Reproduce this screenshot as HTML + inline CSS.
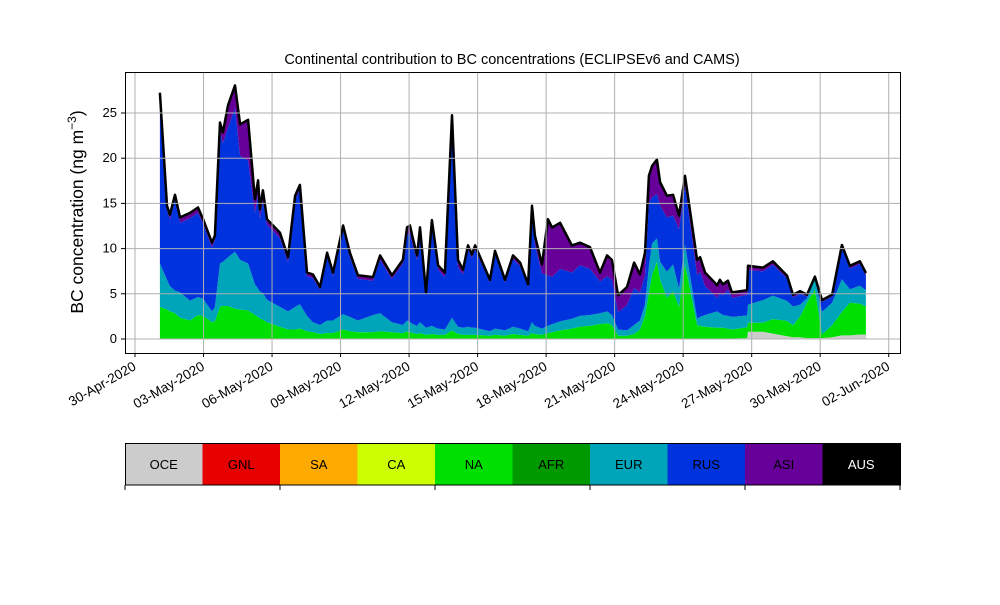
<!DOCTYPE html>
<html><head><meta charset="utf-8"><style>
body{margin:0;background:#fff;font-family:"Liberation Sans",sans-serif;}
svg text{font-family:"Liberation Sans",sans-serif;}
</style></head><body>
<svg id="chart" width="1000" height="600" viewBox="0 0 1000 600" xmlns="http://www.w3.org/2000/svg">
<rect width="1000" height="600" fill="#fff"/>
<text x="512" y="64" text-anchor="middle" font-size="14.5">Continental contribution to BC concentrations (ECLIPSEv6 and CAMS)</text>
<text transform="translate(83,212) rotate(-90)" text-anchor="middle" font-size="17.5">BC concentration (ng m<tspan dy="-7" font-size="12">−3</tspan><tspan dy="7">)</tspan></text>
<g id="areas"></g>
<g id="grid"></g>
<g id="ticks"></g>
<rect x="125.5" y="72.5" width="775" height="281" fill="none" stroke="#000" stroke-width="1"/>
<g id="cbar"></g>
</svg>
<script>
const days = [1.09,1.40,1.53,1.75,1.97,2.41,2.76,2.98,3.37,3.50,3.72,3.85,4.07,4.38,4.60,4.95,5.25,5.39,5.47,5.60,5.78,6.35,6.70,7.01,7.22,7.53,7.79,8.10,8.41,8.67,9.11,9.41,9.76,10.42,10.73,11.25,11.73,11.91,12.04,12.17,12.35,12.48,12.74,13.00,13.27,13.57,13.88,14.14,14.36,14.58,14.75,14.89,15.54,15.76,16.20,16.55,16.86,17.21,17.38,17.51,17.82,18.08,18.26,18.61,19.13,19.48,19.92,20.36,20.67,20.88,21.15,21.54,21.85,22.11,22.33,22.50,22.64,22.85,22.99,23.29,23.56,23.82,24.08,24.61,24.74,24.96,25.49,25.61,25.74,25.96,26.14,26.80,26.84,27.50,27.93,28.55,28.81,29.12,29.42,29.77,30.08,30.52,30.95,31.30,31.74,32.00];
const oce = [0.05,0.05,0.05,0.05,0.05,0.05,0.05,0.05,0.05,0.05,0.05,0.05,0.05,0.05,0.05,0.05,0.05,0.05,0.05,0.05,0.05,0.05,0.05,0.05,0.05,0.05,0.05,0.05,0.05,0.05,0.05,0.05,0.05,0.05,0.05,0.05,0.05,0.05,0.05,0.05,0.05,0.05,0.05,0.05,0.05,0.05,0.05,0.05,0.05,0.05,0.05,0.05,0.05,0.05,0.05,0.05,0.05,0.05,0.05,0.05,0.05,0.05,0.05,0.05,0.05,0.05,0.05,0.05,0.05,0.05,0.05,0.05,0.05,0.05,0.05,0.05,0.05,0.05,0.05,0.05,0.05,0.05,0.05,0.05,0.05,0.05,0.05,0.05,0.05,0.05,0.05,0.1,0.8,0.8,0.6,0.3,0.2,0.2,0.1,0.1,0.1,0.2,0.4,0.4,0.5,0.5];
const naVals = [3.5,3.2,3.0,2.8,2.3,2.0,2.6,2.5,1.8,1.9,3.5,3.6,3.6,3.3,3.2,3.1,2.6,2.4,2.2,2.1,1.8,1.3,1.0,1.0,1.1,0.8,0.7,0.5,0.6,0.6,1.0,0.8,0.7,0.7,0.8,0.7,0.6,0.8,0.7,0.6,0.5,0.6,0.4,0.5,0.4,0.4,0.9,0.5,0.4,0.4,0.4,0.4,0.3,0.4,0.3,0.5,0.4,0.3,0.6,0.5,0.4,0.6,0.7,0.9,1.1,1.3,1.4,1.6,1.7,1.5,0.3,0.3,0.5,1.0,2.5,5.0,7.0,8.5,6.5,4.5,5.2,3.5,8.2,1.5,1.4,1.3,1.2,1.2,1.2,1.1,1.0,1.2,1.0,1.0,1.6,1.7,1.3,2.3,3.9,5.4,0.4,1.3,2.6,3.6,3.4,3.1];
const eurVals = [4.8,3.3,2.8,2.5,2.8,2.2,2.0,1.9,1.2,1.6,4.8,4.9,5.4,6.3,5.5,5.2,3.4,3.1,3.0,2.9,2.5,2.2,2.0,2.5,2.7,1.7,1.1,1.0,1.4,1.4,1.7,1.6,1.3,1.9,2.0,1.1,0.9,1.2,1.1,1.0,0.9,1.2,0.8,0.9,0.7,0.6,1.4,0.8,0.8,0.9,0.8,0.8,0.5,0.7,0.6,0.8,0.7,0.5,1.2,0.9,0.7,0.8,0.9,1.0,1.1,1.2,1.2,1.2,1.3,1.1,0.7,0.6,1.0,1.0,1.3,3.0,3.5,2.6,2.0,2.9,3.0,2.0,2.2,0.7,1.0,1.3,1.8,1.6,1.4,1.4,1.4,1.3,2.0,2.5,2.6,2.2,2.1,1.3,0.5,1.1,2.5,2.5,3.6,1.5,2.0,1.8];
const rusVals = [18.6,7.7,7.4,10.1,7.7,9.1,9.3,8.3,7.1,7.4,14.6,13.1,14.3,15.9,11.5,11.4,7.9,10.5,8.1,10.2,8.3,7.6,5.5,11.8,12.7,4.4,4.9,3.9,7.1,4.9,9.2,6.6,4.6,3.8,5.9,4.8,6.8,9.5,9.9,8.6,7.3,10.0,3.7,11.3,6.5,5.8,22.0,6.6,5.9,8.6,7.7,8.7,5.4,8.3,5.3,7.5,6.9,4.9,12.4,9.0,6.1,5.6,5.2,5.8,5.1,5.6,5.1,3.5,3.9,3.9,1.9,2.8,4.1,3.1,3.2,7.0,5.1,4.9,6.2,6.0,5.4,6.6,6.5,4.8,5.0,3.2,1.5,2.2,2.2,2.9,2.1,2.3,3.8,3.2,3.4,2.5,1.0,1.2,0.2,0.1,1.1,0.7,3.5,2.3,2.4,1.6];
const asiVals = [0.3,0.5,0.5,0.5,0.6,0.6,0.6,0.5,0.5,0.5,1.0,1.2,2.5,2.5,3.5,4.5,1.5,1.5,1.0,1.2,0.6,0.6,0.5,0.5,0.5,0.4,0.4,0.3,0.4,0.4,0.6,0.5,0.4,0.4,0.5,0.4,0.4,0.8,0.8,0.8,0.5,0.5,0.2,0.4,0.5,0.5,0.4,0.8,0.5,0.4,0.4,0.4,0.3,0.3,0.3,0.4,0.4,0.3,0.5,1.0,1.0,6.2,5.5,5.1,3.0,2.5,2.4,1.0,2.3,2.2,1.9,2.0,2.8,2.0,2.5,3.0,3.5,3.8,2.6,2.4,2.3,1.5,1.1,1.7,1.6,1.5,1.4,1.5,1.2,1.0,0.6,0.5,0.5,0.4,0.4,0.3,0.3,0.3,0.2,0.2,0.2,0.2,0.3,0.3,0.3,0.3];
const layerNames = ["OCE","NA","EUR","RUS","ASI"];
const layerColors = ["#cccccc","#00e000","#00a5b9","#0033dd","#660099"];
const yTicks = [0,5,10,15,20,25];
const xTickDays = [0,3,6,9,12,15,18,21,24,27,30,33];
const xTickLabels = ["30-Apr-2020","03-May-2020","06-May-2020","09-May-2020","12-May-2020","15-May-2020","18-May-2020","21-May-2020","24-May-2020","27-May-2020","30-May-2020","02-Jun-2020"];
const cbarLabels = ["OCE","GNL","SA","CA","NA","AFR","EUR","RUS","ASI","AUS"];
const cbarColors = ["#cccccc","#e60000","#ffaa00","#ccff00","#00e000","#009900","#00a5b9","#0033dd","#660099","#000000"];

const NS="http://www.w3.org/2000/svg";
const X = d => 135 + d*22.84;
const Y = v => 339 - v*9.04;
function mk(tag, attrs, parent){const e=document.createElementNS(NS,tag);for(const k in attrs)e.setAttribute(k,attrs[k]);parent.appendChild(e);return e;}
const series=[oce,naVals,eurVals,rusVals,asiVals];
const areas=document.getElementById('areas');
let base=days.map(()=>0);
series.forEach((s,i)=>{
  const top=base.map((b,j)=>b+s[j]);
  let pts=days.map((d,j)=>X(d).toFixed(1)+","+Y(top[j]).toFixed(1));
  for(let j=days.length-1;j>=0;j--)pts.push(X(days[j]).toFixed(1)+","+Y(base[j]).toFixed(1));
  const p=mk('polygon',{points:pts.join(' '),fill:layerColors[i]},areas);
  
  
  base=top;
});
const topLine=mk('polyline',{points:days.map((d,j)=>X(d).toFixed(1)+","+Y(base[j]).toFixed(1)).join(' '),fill:'none',stroke:'#000','stroke-width':2.5,'stroke-linejoin':'round'},areas);



const grid=document.getElementById('grid'), ticks=document.getElementById('ticks');
yTicks.forEach(v=>{
  const y=Y(v);
  const g=mk('line',{x1:125,x2:900,y1:y,y2:y,stroke:'#b0b0b0','stroke-width':1},grid);
  
  
  mk('line',{x1:121,x2:125,y1:y,y2:y,stroke:'#000'},ticks);
  const t=mk('text',{x:117,y:y+4,'text-anchor':'end','font-size':13},ticks);
  t.textContent=v;
  
  
});
xTickDays.forEach((d,i)=>{
  const x=X(d);
  const g=mk('line',{x1:x,x2:x,y1:72,y2:353,stroke:'#b0b0b0','stroke-width':1},grid);
  
  
  mk('line',{x1:x,x2:x,y1:353,y2:357,stroke:'#000'},ticks);
  const t=mk('text',{transform:`translate(${x+2},${369}) rotate(-30)`,'text-anchor':'end','font-size':13.5},ticks);
  t.textContent=xTickLabels[i];
  
  
});
const cbar=document.getElementById('cbar');
const cw=77.5;
cbarLabels.forEach((l,i)=>{
  const r=mk('rect',{x:125+i*cw,y:443,width:cw+0.5,height:42,fill:cbarColors[i]},cbar);
  
  
  const t=mk('text',{x:125+i*cw+cw/2,y:469,'text-anchor':'middle','font-size':13,fill:(l==='AUS'?'#fff':'#000')},cbar);
  t.textContent=l;
  
  
});
mk('rect',{x:125.5,y:443.5,width:775,height:41.5,fill:'none',stroke:'#000'},cbar);
[0,2,4,6,8,10].forEach(k=>{mk('line',{x1:125+k*cw,x2:125+k*cw,y1:485,y2:490,stroke:'#000'},cbar);});
</script>
</body></html>
